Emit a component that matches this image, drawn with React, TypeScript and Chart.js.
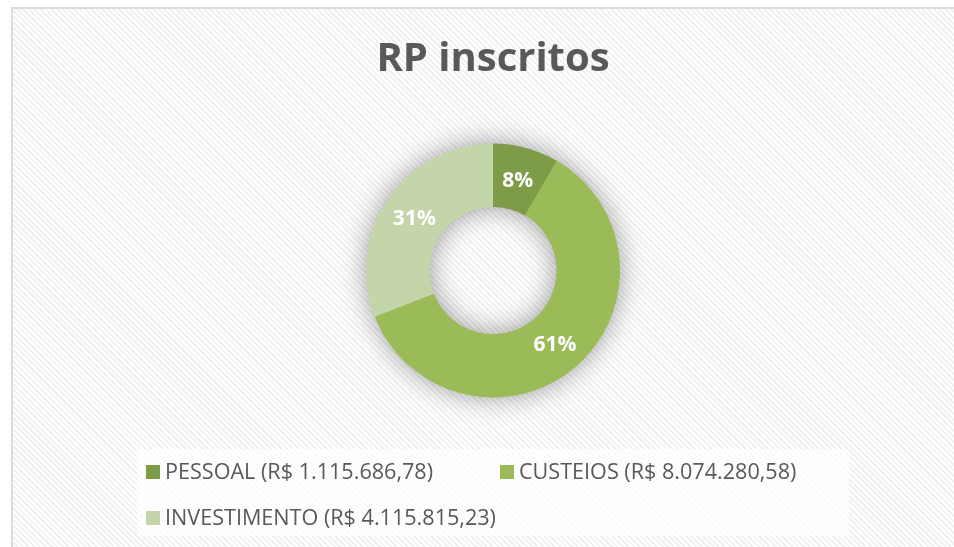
import React, { useEffect, useRef } from 'react';
import { Chart, registerables } from 'chart.js';

Chart.register(...registerables);

const titleText = 'RP inscritos';
const categories = ['PESSOAL', 'CUSTEIOS', 'INVESTIMENTO'];
const values = [1115686.78, 8074280.58, 4115815.23];
const valueLabels = ['R$ 1.115.686,78', 'R$ 8.074.280,58', 'R$ 4.115.815,23'];
const sliceColors = ['#7E9B47', '#9BBB59', '#C3D5A9'];

const FONT = '"Open Sans", "Noto Sans", sans-serif';

const ringShadow = {
  id: 'ringShadow',
  beforeDatasetsDraw(chart: any) {
    const meta = chart.getDatasetMeta(0);
    const arc = meta.data[0];
    if (!arc) return;
    const { x, y, innerRadius, outerRadius } = arc.getProps(['x', 'y', 'innerRadius', 'outerRadius'], true);
    const ctx = chart.ctx;
    ctx.save();
    ctx.shadowColor = 'rgba(0,0,0,0.42)';
    ctx.shadowBlur = 28;
    ctx.fillStyle = '#9BBB59';
    ctx.beginPath();
    ctx.arc(x, y, outerRadius - 1.5, 0, Math.PI * 2);
    ctx.moveTo(x + innerRadius + 1.5, y);
    ctx.arc(x, y, innerRadius + 1.5, 0, Math.PI * 2, true);
    ctx.fill('evenodd');
    ctx.restore();
  },
};

const pctLabels = {
  id: 'pctLabels',
  afterDatasetsDraw(chart: any) {
    const meta = chart.getDatasetMeta(0);
    const total = values.reduce((a, b) => a + b, 0);
    const ctx = chart.ctx;
    ctx.save();
    ctx.font = `bold 21px ${FONT}`;
    ctx.fillStyle = '#FFFFFF';
    ctx.textAlign = 'center';
    ctx.textBaseline = 'middle';
    meta.data.forEach((el: any, i: number) => {
      const p = el.tooltipPosition(true);
      ctx.fillText(`${Math.round((values[i] / total) * 100)}%`, p.x, p.y + 2);
    });
    ctx.restore();
  },
};

const boxLegend = {
  id: 'boxLegend',
  afterDraw(chart: any) {
    const ctx = chart.ctx;
    const cx = chart.width / 2;
    const w = 712;
    const h = 87;
    const left = cx - w / 2;
    const top = 440;
    ctx.save();
    ctx.fillStyle = 'rgba(255,255,255,0.7)';
    ctx.fillRect(left, top, w, h);
    const cols = [left + 9, left + 363];
    const rows = [top + 23, top + 69];
    ctx.font = `21.6px ${FONT}`;
    ctx.textBaseline = 'middle';
    ctx.textAlign = 'left';
    categories.forEach((c, i) => {
      const col = cols[i % 2];
      const row = rows[Math.floor(i / 2)];
      ctx.fillStyle = sliceColors[i];
      ctx.fillRect(col, row - 7, 14, 14);
      ctx.fillStyle = '#595959';
      ctx.fillText(`${c} (${valueLabels[i]})`, col + 19, row + 0.5);
    });
    ctx.restore();
  },
};

export default function App() {
  const ref = useRef<HTMLCanvasElement | null>(null);

  useEffect(() => {
    if (!ref.current) return;
    const chart = new Chart(ref.current, {
      type: 'doughnut',
      data: {
        labels: categories,
        datasets: [
          {
            data: values,
            backgroundColor: sliceColors,
            borderWidth: 0,
            hoverOffset: 0,
          },
        ],
      },
      options: {
        responsive: false,
        animation: false,
        cutout: '50%',
        layout: { padding: { top: 0, bottom: 149.5, left: 0, right: 0 } },
        plugins: {
          legend: { display: false },
          tooltip: { enabled: false },
          title: {
            display: true,
            text: titleText,
            color: '#595959',
            font: { family: FONT, weight: 'bold', size: 40, lineHeight: 1.2 },
            padding: { top: 27, bottom: 59.5 },
          },
        },
      },
      plugins: [ringShadow, pctLabels, boxLegend],
    } as any);
    return () => chart.destroy();
  }, []);

  return (
    <div style={{ position: 'fixed', left: 0, top: 0, width: 954, height: 547, overflow: 'hidden', background: '#FFFFFF' }}>
      <div
        style={{
          position: 'absolute',
          left: 11,
          top: 7,
          width: 960,
          height: 560,
          borderLeft: '2px solid #DCDCDC',
          borderTop: '2px solid #DCDCDC',
          background: 'repeating-linear-gradient(45deg, #FFFFFF 0px, #FFFFFF 2px, #F1F1F1 2px, #F1F1F1 4px)',
        }}
      >
        <canvas ref={ref} width={960} height={538} style={{ display: 'block' }} />
      </div>
    </div>
  );
}
